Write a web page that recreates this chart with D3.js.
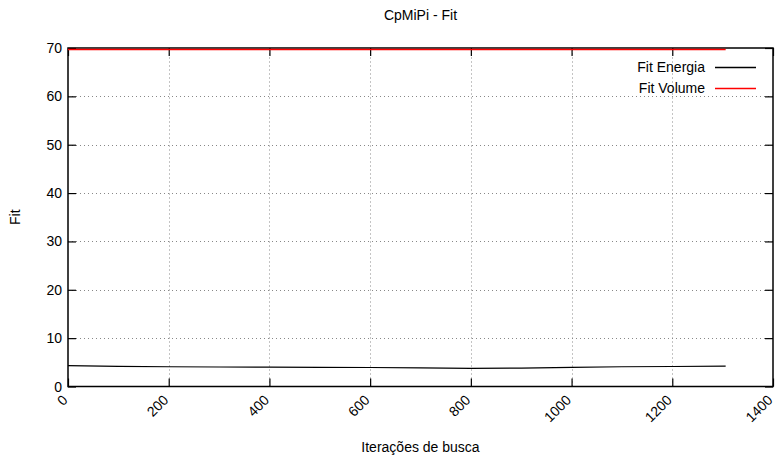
<!DOCTYPE html>
<html>
<head>
<meta charset="utf-8">
<script src="https://cdn.jsdelivr.net/npm/d3@7"></script>
<style>
  body { margin: 0; background: #fff; }
  svg { display: block; }
  text { font-family: "Liberation Sans", Arial, Helvetica, sans-serif; fill: #000; }
</style>
</head>
<body>
<div id="chart"></div>
<script>
const titleText = "CpMiPi - Fit";
const xLabel = "Iterações de busca";
const yLabel = "Fit";
const iterations = [0, 100, 200, 300, 400, 500, 600, 700, 800, 900, 1000, 1100, 1200, 1306];
const fitEnergia = [4.31, 4.15, 4.08, 4.03, 4.0, 3.97, 3.93, 3.85, 3.75, 3.8, 3.97, 4.08, 4.14, 4.22];
const fitVolume = [69.7, 69.7, 69.7, 69.7, 69.7, 69.7, 69.7, 69.7, 69.7, 69.7, 69.7, 69.7, 69.7, 69.7];
const xTicks = [0, 200, 400, 600, 800, 1000, 1200, 1400];
const yTicks = [0, 10, 20, 30, 40, 50, 60, 70];
const seriesNames = ["Fit Energia", "Fit Volume"];
const seriesColors = ["#000000", "#ff0000"];

const W = 775, H = 464;
const m = { left: 68, right: 2, top: 48, bottom: 77.5 };
const svg = d3.select("#chart").append("svg").attr("width", W).attr("height", H);

const x = d3.scaleLinear().domain([0, 1400]).range([m.left, W - m.right]);
const y = d3.scaleLinear().domain([0, 70]).range([H - m.bottom, m.top]);
const x0 = x.range()[0], x1 = x.range()[1], y0 = y.range()[0], y1 = y.range()[1];

// grid
const grid = svg.append("g").attr("stroke", "#888").attr("stroke-width", 1).attr("stroke-dasharray", "1,3");
grid.selectAll(".gx").data(xTicks.slice(1, -1)).enter().append("line")
  .attr("x1", d => Math.round(x(d)) + 0.5).attr("x2", d => Math.round(x(d)) + 0.5)
  .attr("y1", y0).attr("y2", y1);
grid.selectAll(".gy").data(yTicks.slice(1, -1)).enter().append("line")
  .attr("y1", d => Math.round(y(d)) + 0.5).attr("y2", d => Math.round(y(d)) + 0.5)
  .attr("x1", x0).attr("x2", x1);

// axes (ticks inside, mirrored)
const tl = 8;
const axB = svg.append("g").attr("transform", `translate(0,${y0})`)
  .call(d3.axisBottom(x).tickValues(xTicks).tickSize(-tl).tickFormat(""));
const axT = svg.append("g").attr("transform", `translate(0,${y1})`)
  .call(d3.axisTop(x).tickValues(xTicks).tickSize(-tl).tickFormat(""));
const axL = svg.append("g").attr("transform", `translate(${x0},0)`)
  .call(d3.axisLeft(y).tickValues(yTicks).tickSize(-tl).tickFormat(""));
const axR = svg.append("g").attr("transform", `translate(${x1},0)`)
  .call(d3.axisRight(y).tickValues(yTicks).tickSize(-tl).tickFormat(""));
[axB, axT, axL, axR].forEach(a => { a.select(".domain").remove(); a.selectAll("line").attr("stroke", "#000").attr("stroke-width", 1.2); });

// tick labels
svg.selectAll(".xl").data(xTicks).enter().append("text")
  .attr("transform", d => `translate(${x(d) - 3},${y0 + 11}) rotate(-45)`)
  .attr("text-anchor", "end").attr("dy", "0.35em").attr("font-size", 14)
  .text(d => d);
svg.selectAll(".yl").data(yTicks).enter().append("text")
  .attr("x", x0 - 6).attr("y", d => y(d)).attr("dy", "0.36em")
  .attr("text-anchor", "end").attr("font-size", 14).text(d => d);

// lines
const line = d3.line().x((d, i) => x(iterations[i])).y(d => y(d));
svg.append("path").datum(fitEnergia).attr("d", line).attr("fill", "none")
  .attr("stroke", seriesColors[0]).attr("stroke-width", 1.2);

// border
svg.append("rect").attr("x", x0).attr("y", y1).attr("width", x1 - x0).attr("height", y0 - y1)
  .attr("fill", "none").attr("stroke", "#000").attr("stroke-width", 1.5);

svg.append("path").datum(fitVolume).attr("d", line).attr("fill", "none")
  .attr("stroke", seriesColors[1]).attr("stroke-width", 1.6);

// legend
const lg = svg.append("g");
seriesNames.forEach((n, i) => {
  const ly = 67 + i * 21;
  lg.append("text").attr("x", 705).attr("y", ly).attr("dy", "0.35em")
    .attr("text-anchor", "end").attr("font-size", 14).text(n);
  lg.append("line").attr("x1", 715).attr("x2", 756).attr("y1", ly + 0.5).attr("y2", ly + 0.5)
    .attr("stroke", seriesColors[i]).attr("stroke-width", 1.3);
});

// titles
svg.append("text").attr("x", (x0 + x1) / 2).attr("y", 20).attr("text-anchor", "middle")
  .attr("font-size", 14).text(titleText);
svg.append("text").attr("x", (x0 + x1) / 2).attr("y", 452).attr("text-anchor", "middle")
  .attr("font-size", 14).text(xLabel);
svg.append("text").attr("transform", `translate(20,${(y0 + y1) / 2}) rotate(-90)`)
  .attr("text-anchor", "middle").attr("font-size", 14).text(yLabel);
</script>
</body>
</html>
